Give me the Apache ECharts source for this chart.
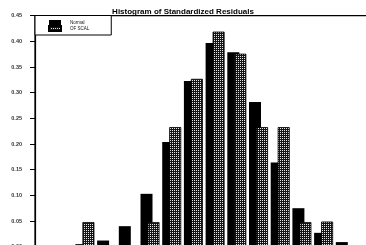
<!DOCTYPE html>
<html>
<head>
<meta charset="utf-8">
<script src="https://cdn.jsdelivr.net/npm/echarts@6/dist/echarts.min.js"></script>
<style>
html, body { margin: 0; padding: 0; background: #fff; }
#chart { width: 366px; height: 245px; }
</style>
</head>
<body>
<div id="chart"></div>
<script>
// bin centres of the standardized residuals
var bins = [-3.0, -2.5, -2.0, -1.5, -1.0, -0.5, 0.0, 0.5, 1.0, 1.5, 2.0, 2.5, 3.0];
var normal = [0.005, 0.012, 0.040, 0.103, 0.204, 0.323, 0.397, 0.379, 0.282, 0.164, 0.075, 0.027, 0.009];
var ofScal = [0.048, 0, 0, 0.048, 0.233, 0.327, 0.419, 0.376, 0.233, 0.233, 0.048, 0.049, 0];
var yTicks = [0, 0.05, 0.10, 0.15, 0.20, 0.25, 0.30, 0.35, 0.40, 0.45];

// dotted fill for the second series
var pat = document.createElement('canvas');
pat.width = 2;
pat.height = 2;
var ctx = pat.getContext('2d');
ctx.fillStyle = '#151515';
ctx.fillRect(0, 0, 2, 2);
ctx.fillStyle = '#e8e8e8';
ctx.fillRect(0, 0, 1, 1);

var normalData = [];
var scalData = [];
for (var i = 0; i < bins.length; i++) {
    normalData.push([bins[i], normal[i]]);
    scalData.push([bins[i], ofScal[i]]);
}

var option = {
    animation: false,
    backgroundColor: '#fff',
    title: {
        text: 'Histogram of Standardized Residuals',
        left: 'center',
        top: 2.5,
        textStyle: {
            fontFamily: 'Liberation Sans',
            fontSize: 8,
            fontWeight: 'bold',
            color: '#000'
        }
    },
    legend: {
        orient: 'vertical',
        left: 35,
        top: 15.5,
        padding: [4.5, 22, 3, 13],
        itemWidth: 12,
        itemHeight: 5,
        itemGap: 0,
        icon: 'rect',
        borderColor: '#000',
        borderWidth: 1,
        backgroundColor: '#fff',
        data: ['Normal', 'OF SCAL'],
        textStyle: {
            fontFamily: 'Liberation Sans',
            fontSize: 4.5,
            color: '#111',
            padding: [0, 0, 0, 4]
        }
    },
    grid: {
        left: 35,
        right: -1,
        top: 15.7,
        bottom: -1.7,
        outerBoundsMode: 'none',
        containLabel: false,
        show: true,
        borderColor: '#000',
        borderWidth: 1.2
    },
    xAxis: {
        type: 'value',
        min: -4.15,
        max: 3.5,
        axisLine: { show: false },
        axisTick: { show: false },
        axisLabel: { show: false },
        splitLine: { show: false }
    },
    yAxis: {
        type: 'value',
        min: yTicks[0],
        max: yTicks[yTicks.length - 1],
        interval: 0.05,
        axisLine: { show: true, onZero: false, lineStyle: { color: '#000', width: 1.2 } },
        axisTick: { show: true, length: 5, lineStyle: { color: '#000', width: 1 } },
        axisLabel: {
            margin: 13,
            fontFamily: 'Liberation Sans',
            fontSize: 5.5,
            fontWeight: 'bold',
            color: '#333',
            formatter: function (v) { return v.toFixed(2); }
        },
        splitLine: { show: false }
    },
    series: [{
        name: 'Normal',
        type: 'bar',
        barWidth: 12,
        barGap: '-41.7%',
        itemStyle: { color: '#000' },
        data: normalData
    }, {
        name: 'OF SCAL',
        type: 'bar',
        barWidth: 12,
        itemStyle: {
            color: { image: pat, repeat: 'repeat' },
            borderColor: '#000',
            borderWidth: 0.8
        },
        data: scalData
    }]
};
var myChart = echarts.init(document.getElementById('chart'));
myChart.setOption(option);
</script>
</body>
</html>
